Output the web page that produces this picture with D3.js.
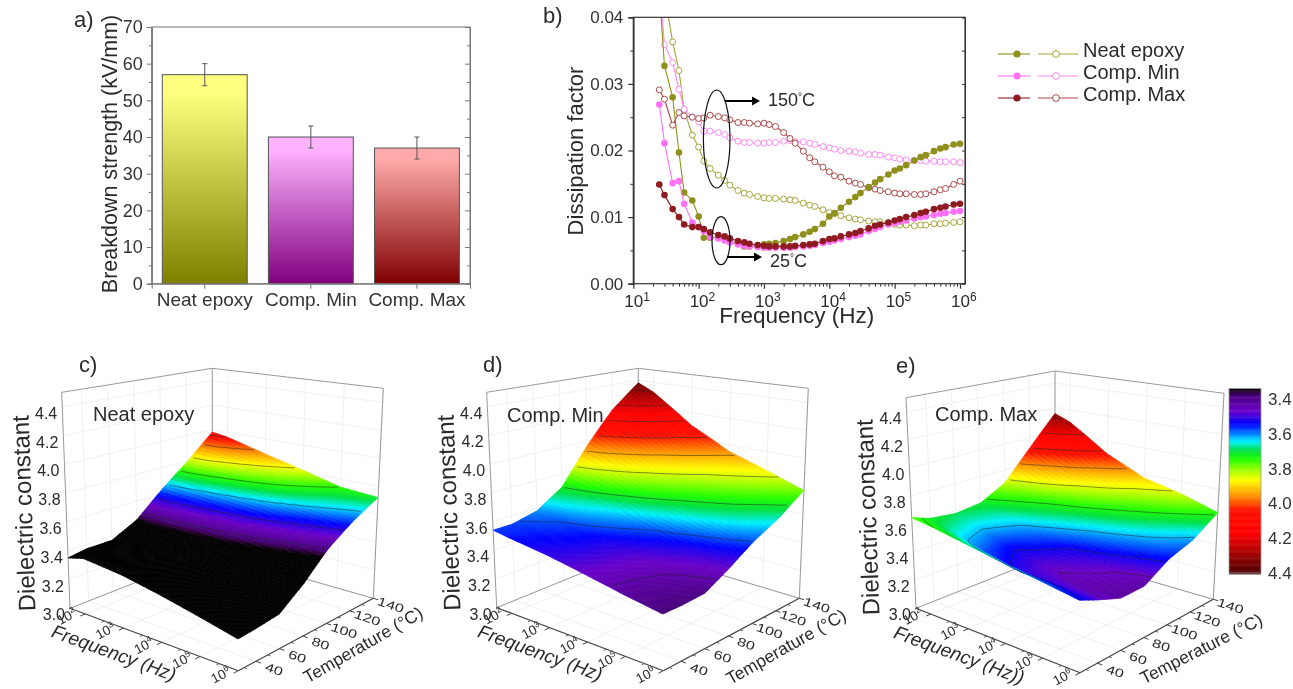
<!DOCTYPE html>
<html lang="en">
<head>
<meta charset="utf-8">
<title>Breakdown strength, dissipation factor and dielectric constant</title>
<script src="https://cdnjs.cloudflare.com/ajax/libs/d3/7.8.5/d3.min.js"></script>
<style type="text/css">
	html, body { margin: 0; padding: 0; background: #fff; }
	svg { display: block; filter: blur(.4px); }
	text { font-family: "Liberation Sans", Arial, sans-serif; fill: #2a2a2a; }
	.axis text { font-family: "Liberation Sans", Arial, sans-serif; fill: #333; }
</style>
</head>
<body>
<script type="text/javascript">

// ---- panel a
var categories = ["Neat epoxy", "Comp. Min", "Comp. Max"];
var strength = [57, 40, 37];
var strengthErr = [3, 3, 3];

// ---- panel b
var freqs = [25, 30, 40, 50, 60, 80, 100, 120, 150, 200, 250, 300, 400, 500, 600, 800,
	1e3, 1.2e3, 1.5e3, 2e3, 2.5e3, 3e3, 4e3, 5e3, 6e3, 8e3,
	1e4, 1.2e4, 1.5e4, 2e4, 2.5e4, 3e4, 4e4, 5e4, 6e4, 8e4,
	1e5, 1.2e5, 1.5e5, 2e5, 2.5e5, 3e5, 4e5, 5e5, 6e5, 8e5, 1e6];

var neat25 = [.0440, .0327, .0280, .0197, .0137, .0125, .0101, .0069, .0069, .0070, .0068, .0065, .0060, .0056, .0056, .0056,
	.0059, .0060, .0061, .0064, .0067, .0070, .0074, .0078, .0082, .0090,
	.0101, .0106, .0114, .0123, .0130, .0136, .0145, .0152, .0157, .0164,
	.0170, .0173, .0178, .0185, .0190, .0193, .0199, .0203, .0205, .0209, .0210];
var neat150 = [.0500, .0435, .0363, .0320, .0261, .0223, .0205, .0184, .0173, .0163, .0155, .0148, .0140, .0136, .0134, .0131,
	.0129, .0128, .0128, .0127, .0126, .0125, .0121, .0118, .0116, .0111,
	.0107, .0105, .0102, .0099, .0097, .0096, .0094, .0093, .0093, .0091,
	.0089, .0088, .0088, .0087, .0088, .0088, .0090, .0090, .0091, .0092, .0093];
var min25 = [.0269, .0211, .0151, .0154, .0120, .0092, .0085, .0079, .0070, .0068, .0065, .0062, .0059, .0057, .0056, .0055,
	.0054, .0054, .0054, .0054, .0054, .0055, .0056, .0057, .0058, .0061,
	.0063, .0065, .0067, .0070, .0072, .0074, .0079, .0082, .0085, .0089,
	.0091, .0093, .0095, .0098, .0100, .0101, .0103, .0105, .0106, .0108, .0109];
var min150 = [.0450, .0359, .0332, .0292, .0262, .0250, .0243, .0229, .0229, .0227, .0224, .0219, .0214, .0212, .0212, .0211,
	.0211, .0212, .0212, .0214, .0215, .0213, .0213, .0211, .0209, .0206,
	.0204, .0202, .0200, .0199, .0198, .0196, .0194, .0194, .0193, .0190,
	.0189, .0187, .0186, .0185, .0185, .0184, .0184, .0183, .0183, .0183, .0182];
var max25 = [.0149, .0133, .0112, .0100, .0089, .0085, .0085, .0082, .0077, .0073, .0071, .0068, .0064, .0062, .0060, .0058,
	.0057, .0056, .0056, .0056, .0056, .0057, .0058, .0059, .0060, .0064,
	.0067, .0068, .0071, .0074, .0076, .0079, .0083, .0087, .0089, .0092,
	.0095, .0097, .0100, .0103, .0106, .0108, .0112, .0114, .0116, .0119, .0120];
var max150 = [.0291, .0277, .0238, .0257, .0252, .0250, .0248, .0249, .0253, .0251, .0249, .0246, .0242, .0242, .0241, .0240,
	.0241, .0239, .0236, .0227, .0218, .0211, .0199, .0189, .0183, .0175,
	.0168, .0162, .0160, .0154, .0151, .0149, .0144, .0142, .0140, .0138,
	.0136, .0135, .0135, .0134, .0134, .0135, .0138, .0141, .0143, .0149, .0154];

// ---- panels c, d, e: dielectric constant, rows = temperature, columns = frequency
var gridFreq = [40, 100, 1e3, 1e4, 1e5, 1e6];
var gridTemp = [25, 40, 60, 80, 100, 120, 140];

var neatGrid = [
	[3.35, 3.38, 3.35, 3.30, 3.245, 3.19],
	[3.37, 3.39, 3.36, 3.31, 3.25, 3.20],
	[3.37, 3.40, 3.38, 3.34, 3.28, 3.22],
	[3.46, 3.47, 3.46, 3.44, 3.40, 3.34],
	[3.63, 3.62, 3.60, 3.58, 3.54, 3.50],
	[3.79, 3.79, 3.75, 3.71, 3.66, 3.62],
	[3.98, 3.96, 3.88, 3.81, 3.74, 3.72]
];
var minGrid = [
	[3.54, 3.52, 3.48, 3.43, 3.38, 3.34],
	[3.54, 3.53, 3.50, 3.44, 3.38, 3.34],
	[3.58, 3.56, 3.52, 3.46, 3.40, 3.35],
	[3.70, 3.68, 3.61, 3.54, 3.48, 3.44],
	[3.96, 3.92, 3.79, 3.69, 3.62, 3.55],
	[4.20, 4.13, 3.95, 3.82, 3.74, 3.64],
	[4.38, 4.32, 4.10, 3.95, 3.86, 3.77]
];
var maxGrid = [
	[3.645, 3.63, 3.58, 3.53, 3.49, 3.45],
	[3.60, 3.57, 3.48, 3.42, 3.41, 3.40],
	[3.58, 3.55, 3.45, 3.39, 3.36, 3.34],
	[3.60, 3.57, 3.50, 3.43, 3.39, 3.345],
	[3.70, 3.67, 3.60, 3.54, 3.49, 3.45],
	[3.92, 3.86, 3.74, 3.66, 3.59, 3.51],
	[4.15, 4.10, 3.90, 3.77, 3.71, 3.63]
];

var neatLevels = [3.50, 3.58, 3.66, 3.74, 3.82, 3.90, 3.96];
var minLevels = [3.40, 3.55, 3.70, 3.83, 3.93, 4.03, 4.13, 4.23, 4.33];
var maxLevels = [3.38, 3.44, 3.52, 3.62, 3.72, 3.82, 3.92, 4.02, 4.12];

var zTicks = [3.0, 3.2, 3.4, 3.6, 3.8, 4.0, 4.2, 4.4];
var freqTicks = [1e2, 1e3, 1e4, 1e5, 1e6];
var freqMinorTicks = [316, 3162, 31623, 316228];
var tempTicks = [40, 60, 80, 100, 120, 140];
var tempMinorTicks = [30, 50, 70, 90, 110, 130];
var barTicks = [3.4, 3.6, 3.8, 4.0, 4.2, 4.4];

// colour map stops
var mapStops = [0, .015, .04, .12, .19, .25, .285, .335, .38, .44, .495, .58, .66, .78, .88, 1];
var mapColors = ["#000000", "#2a0033", "#4b0082", "#6a00c8", "#0000ff", "#0090ff", "#00f0ff", "#00e040",
	"#20ff00", "#a0ff00", "#ffff00", "#ff9000", "#ff1000", "#ff0000", "#b00000", "#4a0000"];
var colorMap = d3.scaleLinear().domain(mapStops).range(mapColors).clamp(true);

var fullwidth = 1293, fullheight = 689;

var svg = d3.select("body").append("svg")
	.attr("width", fullwidth)
	.attr("height", fullheight);
var defs = svg.append("defs");

var greyAxis = "#777";

function panelLabel(txt, x, y) {
	svg.append("text").attr("x", x).attr("y", y).style("font-size", "22px").text(txt);
}

function powerLabel(sel, exp, size, supSize) {
	sel.append("tspan").style("font-size", size + "px").text("10");
	sel.append("tspan").attr("dy", -size * .38).style("font-size", supSize + "px").text(exp);
}

// ================ panel a ================
(function() {
	var x = d3.scaleBand().domain(categories).range([151.7, 470]).paddingInner(.2).paddingOuter(.1);
	var y = d3.scaleLinear().domain([0, 70]).range([283.7, 27]);
	var colorsTop = ["#ffff80", "#ffb3ff", "#ffaaaa"];
	var colorsBottom = ["#808000", "#800080", "#800000"];

	categories.forEach(function(c, i) {
		var g = defs.append("linearGradient").attr("id", "bar" + i)
			.attr("x1", 0).attr("x2", 0).attr("y1", 0).attr("y2", 1);
		g.append("stop").attr("offset", "8%").attr("stop-color", colorsTop[i]);
		g.append("stop").attr("offset", "100%").attr("stop-color", colorsBottom[i]);
	});

	var g = svg.append("g");

	g.selectAll("rect.bar").data(categories).enter().append("rect")
		.attr("class", "bar")
		.attr("x", function(d) { return x(d); })
		.attr("width", x.bandwidth())
		.attr("y", function(d, i) { return y(strength[i]); })
		.attr("height", function(d, i) { return y(0) - y(strength[i]); })
		.attr("fill", function(d, i) { return "url(#bar" + i + ")"; })
		.attr("stroke", "#555")
		.attr("stroke-width", 1);

	categories.forEach(function(c, i) {
		var cx = x(c) + x.bandwidth() / 2;
		var hi = y(strength[i] + strengthErr[i]), lo = y(strength[i] - strengthErr[i]);
		g.append("path")
			.attr("d", "M" + cx + "," + hi + "V" + lo + "M" + (cx - 2.5) + "," + hi + "h5M" + (cx - 2.5) + "," + lo + "h5")
			.attr("fill", "none").attr("stroke", "#555").attr("stroke-width", 1);
	});

	// frame
	g.append("rect").attr("x", 151.7).attr("y", 27).attr("width", 318.3).attr("height", 256.7)
		.attr("fill", "none").attr("stroke", greyAxis).attr("stroke-width", 1);

	var left = g.append("g").attr("class", "axis").attr("transform", "translate(151.7,0)")
		.call(d3.axisLeft(y).tickValues(d3.range(0, 71, 10)).tickSize(5).tickPadding(4));
	left.selectAll("text").style("font-size", "18px");
	left.selectAll("line, path").attr("stroke", greyAxis);
	g.append("g").attr("transform", "translate(151.7,0)")
		.call(d3.axisLeft(y).tickValues(d3.range(5, 70, 10)).tickSize(3).tickFormat(""))
		.selectAll("line, path").attr("stroke", greyAxis);

	var right = g.append("g").attr("transform", "translate(470,0)")
		.call(d3.axisRight(y).tickValues(d3.range(0, 71, 5)).tickSize(-3).tickFormat(""));
	right.selectAll("line, path").attr("stroke", greyAxis);
	right.selectAll("line").attr("x2", function(d) { return d % 10 == 0 ? -5 : -3; });

	var bottom = g.append("g").attr("class", "axis").attr("transform", "translate(0,283.7)")
		.call(d3.axisBottom(x).tickSize(5).tickPadding(4));
	bottom.selectAll("text").style("font-size", "19px");
	bottom.selectAll("line, path").attr("stroke", greyAxis);

	g.append("text")
		.attr("transform", "translate(117,154) rotate(-90)")
		.attr("text-anchor", "middle")
		.style("font-size", "21.5px")
		.text("Breakdown strength (kV/mm)");

	panelLabel("a)", 74, 27);
})();

// ================ panel b ================
(function() {
	var x = d3.scaleLog().domain([10, 1e6]).range([633.3, 960]);
	var y = d3.scaleLinear().domain([0, .04]).range([283.7, 17.3]);
	var xRight = 965;

	defs.append("clipPath").attr("id", "plotb").append("rect")
		.attr("x", 633.3).attr("y", 17.3).attr("width", xRight - 633.3).attr("height", 266.4);

	var g = svg.append("g");
	var darkAxis = "#333";

	var series = [
		{ values: neat150, line: "#a5a53a", filled: false },
		{ values: min150, line: "#ff88f0", filled: false },
		{ values: max150, line: "#a84848", filled: false },
		{ values: neat25, line: "#8f8f1c", filled: true },
		{ values: min25, line: "#ff70f5", filled: true },
		{ values: max25, line: "#8e1a22", filled: true }
	];

	var line = d3.line()
		.x(function(d, i) { return x(freqs[i]); })
		.y(function(d) { return y(d); });

	var plot = g.append("g").attr("clip-path", "url(#plotb)");

	series.forEach(function(s) {
		plot.append("path").attr("d", line(s.values))
			.attr("fill", "none").attr("stroke", s.line).attr("stroke-width", 1.1);
		plot.selectAll(null).data(s.values).enter().append("circle")
			.attr("cx", function(d, i) { return x(freqs[i]); })
			.attr("cy", function(d) { return y(d); })
			.attr("r", s.filled ? 3.3 : 3)
			.attr("fill", s.filled ? s.line : "#fff")
			.attr("stroke", s.line)
			.attr("stroke-width", s.filled ? 0 : 1);
	});

	// frame and axes
	g.append("rect").attr("x", 633.3).attr("y", 17.3).attr("width", xRight - 633.3).attr("height", 266.4)
		.attr("fill", "none").attr("stroke", darkAxis).attr("stroke-width", 1.2);

	var left = g.append("g").attr("class", "axis").attr("transform", "translate(633.3,0)")
		.call(d3.axisLeft(y).tickValues([0, .01, .02, .03, .04]).tickSize(5).tickPadding(5).tickFormat(d3.format(".2f")));
	left.selectAll("text").style("font-size", "17px");
	left.selectAll("line, path").attr("stroke", darkAxis).attr("stroke-width", 1.2);
	g.append("g").attr("transform", "translate(633.3,0)")
		.call(d3.axisLeft(y).tickValues([.005, .015, .025, .035]).tickSize(3).tickFormat(""))
		.selectAll("line, path").attr("stroke", darkAxis);

	var right = g.append("g").attr("transform", "translate(" + xRight + ",0)")
		.call(d3.axisRight(y).tickValues(d3.range(0, .0401, .005)).tickSize(-3).tickFormat(""));
	right.selectAll("line, path").attr("stroke", darkAxis);

	var decades = [10, 1e2, 1e3, 1e4, 1e5, 1e6];
	var minors = [];
	decades.slice(0, 5).forEach(function(d) {
		d3.range(2, 10).forEach(function(m) { minors.push(d * m); });
	});

	var bottom = g.append("g").attr("transform", "translate(0,283.7)")
		.call(d3.axisBottom(x).tickValues(decades).tickSize(5).tickFormat(""));
	bottom.selectAll("line").attr("stroke", darkAxis).attr("stroke-width", 1.2);
	bottom.select("path").attr("stroke", "none");
	var bottomMinor = g.append("g").attr("transform", "translate(0,283.7)")
		.call(d3.axisBottom(x).tickValues(minors).tickSize(3).tickFormat(""));
	bottomMinor.selectAll("line").attr("stroke", darkAxis);
	bottomMinor.select("path").attr("stroke", "none");

	decades.forEach(function(d, i) {
		var t = g.append("text")
			.attr("x", x(d) - 9).attr("y", 307);
		powerLabel(t, String(i + 1), 17, 12);
	});

	g.append("text").attr("x", 796.7).attr("y", 323).attr("text-anchor", "middle")
		.style("font-size", "22.5px").text("Frequency (Hz)");
	g.append("text").attr("transform", "translate(582.7,151) rotate(-90)").attr("text-anchor", "middle")
		.style("font-size", "22px").text("Dissipation factor");

	// annotations
	var ann = g.append("g").attr("fill", "none").attr("stroke", "#111").attr("stroke-width", 1.2);
	ann.append("ellipse").attr("cx", 716.7).attr("cy", 139).attr("rx", 13.3).attr("ry", 49);
	ann.append("ellipse").attr("cx", 721).attr("cy", 240.7).attr("rx", 9).attr("ry", 24);

	[[725, 760, 101], [727, 762, 257]].forEach(function(a) {
		g.append("path")
			.attr("d", "M" + a[0] + "," + a[2] + "H" + (a[1] - 7))
			.attr("stroke", "#000").attr("stroke-width", 2);
		g.append("path")
			.attr("d", "M" + (a[1] - 8) + "," + (a[2] - 4.5) + "L" + a[1] + "," + a[2] + "L" + (a[1] - 8) + "," + (a[2] + 4.5) + "Z")
			.attr("fill", "#000");
	});

	var t150 = g.append("text").attr("x", 768).attr("y", 106).style("font-size", "18px").text("150");
	t150.append("tspan").attr("dy", -6).style("font-size", "10px").text("°");
	t150.append("tspan").attr("dy", 6).text("C");
	var t25 = g.append("text").attr("x", 770).attr("y", 267).style("font-size", "18px").text("25");
	t25.append("tspan").attr("dy", -6).style("font-size", "10px").text("°");
	t25.append("tspan").attr("dy", 6).text("C");

	// legend
	var legendFilled = ["#8f8f1c", "#ff70f5", "#8e1a22"];
	var legendOpen = ["#a5a53a", "#ff88f0", "#a84848"];
	var rowY = d3.scalePoint().domain(categories).range([54, 98]);
	categories.forEach(function(c, i) {
		var yy = rowY(c);
		g.append("path").attr("d", "M998," + yy + "H1030").attr("stroke", legendFilled[i]).attr("stroke-width", 1.1);
		g.append("circle").attr("cx", 1017).attr("cy", yy).attr("r", 3.6).attr("fill", legendFilled[i]);
		g.append("path").attr("d", "M1038," + yy + "H1078").attr("stroke", legendOpen[i]).attr("stroke-width", 1.1);
		g.append("circle").attr("cx", 1056).attr("cy", yy).attr("r", 3.4).attr("fill", "#fff").attr("stroke", legendOpen[i]);
		g.append("text").attr("x", 1083).attr("y", yy + 3).style("font-size", "20px").text(c);
	});

	panelLabel("b)", 543, 23);
})();

// ================ panels c, d, e ================
var uScale = d3.scaleLog().domain([40, 1e6]).range([0, 1]);
var vScale = d3.scaleLinear().domain([25, 140]).range([0, 1]);
var wScale = d3.scaleLinear().domain([3.0, 4.5]).range([0, 1]);

function drawSurface(p) {
	var g = svg.append("g");

	// trilinear position inside the drawn box
	function proj(u, v, w) {
		var c = p.box;
		function mix(k) {
			var floor = d3.interpolate(
				d3.interpolate(c.A[k], c.B[k])(u),
				d3.interpolate(c.D[k], c.C[k])(u))(v);
			var top = d3.interpolate(
				d3.interpolate(c.At[k], c.Bt[k])(u),
				d3.interpolate(c.Dt[k], c.Ct[k])(u))(v);
			return floor + (top - floor) * w;
		}
		return [mix(0), mix(1)];
	}

	function seg(a, b, color, width) {
		g.append("path").attr("d", "M" + a + "L" + b)
			.attr("fill", "none").attr("stroke", color).attr("stroke-width", width);
	}

	// faint grid on the walls and the floor
	var gridColor = "#ececec";
	zTicks.forEach(function(z) {
		var w = wScale(z);
		seg(proj(0, 0, w), proj(0, 1, w), gridColor, .8);
		seg(proj(0, 1, w), proj(1, 1, w), gridColor, .8);
	});
	freqTicks.forEach(function(f) {
		var u = uScale(f);
		seg(proj(u, 0, 0), proj(u, 1, 0), gridColor, .8);
		seg(proj(u, 1, 0), proj(u, 1, 1), gridColor, .8);
	});
	tempTicks.forEach(function(t) {
		var v = vScale(t);
		seg(proj(0, v, 0), proj(1, v, 0), gridColor, .8);
		seg(proj(0, v, 0), proj(0, v, 1), gridColor, .8);
	});

	// box frame
	var frame = "#999";
	seg(proj(0, 0, 0), proj(0, 0, 1), frame, 1);
	seg(proj(0, 1, 0), proj(0, 1, 1), frame, 1);
	seg(proj(1, 1, 0), proj(1, 1, 1), frame, 1);
	seg(proj(0, 0, 1), proj(0, 1, 1), frame, 1);
	seg(proj(0, 1, 1), proj(1, 1, 1), frame, 1);
	seg(proj(0, 0, 0), proj(0, 1, 0), frame, 1);
	seg(proj(0, 1, 0), proj(1, 1, 0), frame, 1);

	var logFreq = gridFreq.map(function(f) { return Math.log10(f); });
	function valueAt(f, t) {
		var lf = Math.log10(f);
		var i = Math.max(0, Math.min(logFreq.length - 2, d3.bisectRight(logFreq, lf) - 1));
		var j = Math.max(0, Math.min(gridTemp.length - 2, d3.bisectRight(gridTemp, t) - 1));
		var a = (lf - logFreq[i]) / (logFreq[i + 1] - logFreq[i]);
		var b = (t - gridTemp[j]) / (gridTemp[j + 1] - gridTemp[j]);
		var low = p.grid[j][i] + (p.grid[j][i + 1] - p.grid[j][i]) * a;
		var high = p.grid[j + 1][i] + (p.grid[j + 1][i + 1] - p.grid[j + 1][i]) * a;
		return low + (high - low) * b;
	}

	var nu = 72, nv = 56;
	var cellValues = [];
	for (var j = 0; j <= nv; j++) {
		for (var i = 0; i <= nu; i++) {
			cellValues.push(valueAt(uScale.invert(i / nu), vScale.invert(j / nv)));
		}
	}
	function val(i, j) { return cellValues[j * (nu + 1) + i]; }

	var tone = d3.scaleLinear().domain(p.colorDomain).range([0, 1]).clamp(true);

	// paint from the back corner forwards
	var sheet = g.append("g");
	for (var jj = nv - 1; jj >= 0; jj--) {
		for (var ii = 0; ii < nu; ii++) {
			var corners = [
				proj(ii / nu, jj / nv, wScale(val(ii, jj))),
				proj((ii + 1) / nu, jj / nv, wScale(val(ii + 1, jj))),
				proj((ii + 1) / nu, (jj + 1) / nv, wScale(val(ii + 1, jj + 1))),
				proj(ii / nu, (jj + 1) / nv, wScale(val(ii, jj + 1)))
			];
			var mean = (val(ii, jj) + val(ii + 1, jj) + val(ii + 1, jj + 1) + val(ii, jj + 1)) / 4;
			var col = colorMap(tone(mean));
			sheet.append("path")
				.attr("d", "M" + corners.map(function(q) { return q[0].toFixed(1) + "," + q[1].toFixed(1); }).join("L") + "Z")
				.attr("fill", col)
				.attr("stroke", col)
				.attr("stroke-width", .7);
		}
	}

	// contour lines on the sheet
	var contours = d3.contours().size([nu + 1, nv + 1]).thresholds(p.levels)(cellValues);
	var contourLine = d3.line()
		.defined(function(q) { return q[0] > .5 && q[0] < nu + .5 && q[1] > .5 && q[1] < nv + .5; })
		.x(function(q) { return q.px[0]; })
		.y(function(q) { return q.px[1]; });
	contours.forEach(function(c) {
		c.coordinates.forEach(function(poly) {
			poly.forEach(function(ring) {
				var pts = ring.map(function(q) {
					var r = [q[0], q[1]];
					r.px = proj((q[0] - .5) / nu, (q[1] - .5) / nv, wScale(c.value));
					return r;
				});
				g.append("path").attr("d", contourLine(pts))
					.attr("fill", "none").attr("stroke", "#222").attr("stroke-width", .8).attr("stroke-opacity", .65);
			});
		});
	});

	// axes along the floor
	var axisColor = "#444";
	seg(proj(0, 0, 0), proj(1, 0, 0), axisColor, 1.2);
	seg(proj(1, 0, 0), proj(1, 1, 0), axisColor, 1.2);

	freqTicks.forEach(function(f) {
		var u = uScale(f);
		seg(proj(u, 0, 0), proj(u, -.035, 0), axisColor, 1);
		var q = proj(u, -.115, 0);
		var t = g.append("text").attr("text-anchor", "middle")
			.attr("transform", "translate(" + q[0] + "," + q[1] + ") rotate(-28)");
		powerLabel(t, String(Math.round(Math.log10(f))), 13.5, 8.5);
	});
	freqMinorTicks.forEach(function(f) {
		var u = uScale(f);
		seg(proj(u, 0, 0), proj(u, -.02, 0), axisColor, .8);
	});
	tempTicks.forEach(function(T) {
		var v = vScale(T);
		seg(proj(1, v, 0), proj(1.03, v, 0), axisColor, 1);
		var q = proj(1.1, v, 0);
		g.append("text").attr("text-anchor", "middle")
			.attr("transform", "translate(" + q[0] + "," + (q[1] + 6) + ") rotate(19) scale(1.35,1)")
			.style("font-size", "12px")
			.text(T);
	});
	tempMinorTicks.forEach(function(T) {
		var v = vScale(T);
		seg(proj(1, v, 0), proj(1.018, v, 0), axisColor, .8);
	});

	zTicks.forEach(function(z) {
		var q = proj(0, 0, wScale(z));
		g.append("text").attr("text-anchor", "end")
			.attr("x", q[0] - 5).attr("y", q[1] + 12)
			.style("font-size", "16px")
			.text(d3.format(".1f")(z));
	});

	g.append("text").attr("text-anchor", "middle")
		.attr("transform", "translate(" + p.zTitle[0] + "," + p.zTitle[1] + ") rotate(-92)")
		.style("font-size", "24px").text("Dielectric constant");
	g.append("text").attr("text-anchor", "middle")
		.attr("transform", "translate(" + p.fTitle[0] + "," + p.fTitle[1] + ") rotate(20)")
		.style("font-size", "19px").style("font-style", "italic").text(p.fText);
	g.append("text").attr("text-anchor", "middle")
		.attr("transform", "translate(" + p.tTitle[0] + "," + p.tTitle[1] + ") rotate(" + p.tTitle[2] + ")")
		.style("font-size", "17.5px").text("Temperature (°C)");

	g.append("text").attr("x", p.name[0]).attr("y", p.name[1])
		.style("font-size", "20px").text(p.nameText);

	panelLabel(p.label[0], p.label[1], p.label[2]);
}

drawSurface({
	grid: neatGrid, levels: neatLevels, colorDomain: [3.46, 4.19],
	box: { A: [70, 608.3], B: [238.3, 670.7], C: [373.3, 598.3], D: [212.3, 552.3],
		At: [61.7, 392.3], Bt: [236.3, 420.7], Ct: [383.3, 388.3], Dt: [212.3, 368.3] },
	zTitle: [32, 513], fTitle: [111.7, 659], tTitle: [366, 650, -30], fText: "Frequency (Hz)",
	name: [93, 421], nameText: "Neat epoxy", label: ["c)", 79, 372]
});
drawSurface({
	grid: minGrid, levels: minLevels, colorDomain: [3.30, 4.42],
	box: { A: [496.7, 607.7], B: [663.3, 670.7], C: [799.3, 598.3], D: [638.3, 550],
		At: [486.7, 392.3], Bt: [661.3, 420.7], Ct: [808.3, 388.3], Dt: [638.3, 368.3] },
	zTitle: [457, 512.5], fTitle: [538, 659], tTitle: [789, 652, -29.5], fText: "Frequency (Hz)",
	name: [507, 421.7], nameText: "Comp. Min", label: ["d)", 483, 372]
});
drawSurface({
	grid: maxGrid, levels: maxLevels, colorDomain: [3.27, 4.21],
	box: { A: [916, 608.3], B: [1080, 672.7], C: [1213.3, 599.3], D: [1055, 553.3],
		At: [906, 397.7], Bt: [1078, 431], Ct: [1224, 393.3], Dt: [1055, 371] },
	zTitle: [876, 517], fTitle: [957, 661], tTitle: [1204, 654, -27], fText: "Frequency (Hz))",
	name: [935, 420.7], nameText: "Comp. Max", label: ["e)", 896, 373]
});

// ---- colour bar
(function() {
	var y = d3.scaleLinear().domain([3.4, 4.4]).range([399, 573]);
	var steps = d3.range(3.34, 4.4, .005);
	var tone = d3.scaleLinear().domain([3.34, 4.4]).range([0, 1]);
	var g = svg.append("g");
	g.selectAll("rect").data(steps).enter().append("rect")
		.attr("x", 1229).attr("width", 32)
		.attr("y", function(d) { return y(d); })
		.attr("height", y(3.405) - y(3.4) + .5)
		.attr("fill", function(d) { return colorMap(tone(d)); });
	g.append("rect").attr("x", 1229).attr("y", y(3.34)).attr("width", 32).attr("height", y(4.4) - y(3.34))
		.attr("fill", "none").attr("stroke", "#999").attr("stroke-width", .8);
	var ax = g.append("g").attr("class", "axis").attr("transform", "translate(1261,0)")
		.call(d3.axisRight(y).tickValues(barTicks).tickSize(0).tickPadding(7).tickFormat(d3.format(".1f")));
	ax.select("path").attr("stroke", "none");
	ax.selectAll("text").style("font-size", "17px");
})();

</script>
</body>
</html>
